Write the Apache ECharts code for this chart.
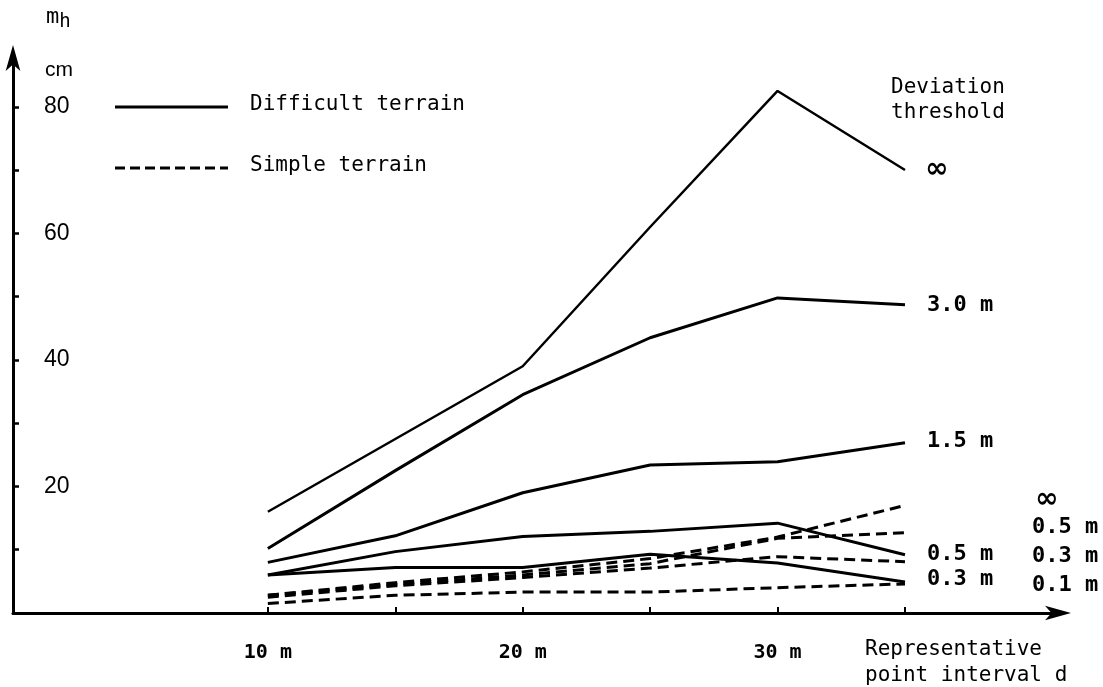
<!DOCTYPE html>
<html>
<head>
<meta charset="utf-8">
<script src="https://cdn.jsdelivr.net/npm/echarts@6/dist/echarts.min.js"></script>
<style>
html,body{margin:0;padding:0;background:#fff;}
#chart{width:1103px;height:687px;}
</style>
</head>
<body>
<div id="chart"></div>
<script>
// Representative point interval d (m)
const intervals = [10, 15, 20, 25, 30, 35];
// Difficult terrain (solid), by deviation threshold
const difficultInf = [16, 27.5, 39, 61, 82.5, 70];
const difficult30 = [10.2, 22.5, 34.5, 43.5, 49.8, 48.7];
const difficult15 = [8, 12.2, 19, 23.4, 23.9, 26.9];
const difficult05 = [6, 9.7, 12.1, 12.9, 14.2, 9.2];
const difficult03 = [6, 7.2, 7.2, 9.3, 7.9, 4.9];
// Simple terrain (dashed)
const simpleInf = [2.8, 4.8, 6.5, 8.6, 12.0, 17.0];
const simple05 = [2.8, 4.5, 6.0, 7.8, 11.8, 12.7];
const simple03 = [2.5, 4.3, 5.6, 7.1, 8.9, 8.1];
const simple01 = [1.5, 2.8, 3.3, 3.3, 4.0, 4.6];
// Tick values
const xTicks = [10, 15, 20, 25, 30, 35];
const xLabels = [10, 20, 30];
const yTicks = [10, 20, 30, 40, 50, 60, 70, 80];
const yLabels = [20, 40, 60, 80];

const mono = '"DejaVu Sans Mono", "Liberation Mono", monospace';
const sans = '"Liberation Sans", Arial, sans-serif';

function pairs(vals) { return intervals.map((x, i) => [x, vals[i]]); }

function mk(name, vals, dashed, labelText, offset, width) {
  const inf = labelText === '∞';
  return {
    type: 'line',
    name: name,
    data: pairs(vals),
    symbol: 'none',
    smooth: false,
    silent: true,
    lineStyle: { color: '#000', width: width || 3, type: dashed ? [11, 6] : 'solid' },
    endLabel: {
      show: true,
      formatter: labelText,
      distance: 0,
      offset: offset,
      color: '#000',
      fontFamily: inf ? '"DejaVu Sans", sans-serif' : mono,
      fontSize: inf ? 28 : 22,
      fontWeight: 'bold'
    }
  };
}

const chart = echarts.init(document.getElementById('chart'), null, { renderer: 'canvas' });
chart.setOption({
  backgroundColor: '#fff',
  animation: false,
  grid: { left: 13, right: 40, top: 53, bottom: 74, containLabel: false },
  xAxis: {
    type: 'value', min: 0, max: 41.2,
    splitLine: { show: false },
    axisLine: { show: true, lineStyle: { color: '#000', width: 3 }, symbol: ['none', 'arrow'], symbolSize: [11, 26], symbolOffset: [0, 8] },
    axisTick: { show: true, inside: true, length: 6, lineStyle: { color: '#000', width: 2 }, customValues: xTicks },
    axisLabel: { show: true, customValues: xLabels, formatter: '{value} m', margin: 30, color: '#000', fontFamily: mono, fontSize: 20, fontWeight: 'bold' }
  },
  yAxis: {
    type: 'value', min: 0, max: 88.5,
    splitLine: { show: false },
    axisLine: { show: true, lineStyle: { color: '#000', width: 3 }, symbol: ['none', 'arrow'], symbolSize: [11, 26], symbolOffset: [0, 8] },
    axisTick: { show: true, inside: true, length: 6, lineStyle: { color: '#000', width: 2.5 }, customValues: yTicks },
    axisLabel: { show: true, inside: true, customValues: yLabels, margin: 31, color: '#000', fontFamily: sans, fontSize: 23 }
  },
  series: [
    mk('∞ difficult', difficultInf, false, '∞', [20, 0], 2.5),
    mk('3.0 m difficult', difficult30, false, '3.0 m', [22, 0]),
    mk('1.5 m difficult', difficult15, false, '1.5 m', [22, -2]),
    mk('0.5 m difficult', difficult05, false, '0.5 m', [22, -1]),
    mk('0.3 m difficult', difficult03, false, '0.3 m', [22, -3]),
    mk('∞ simple', simpleInf, true, '∞', [130, -6]),
    mk('0.5 m simple', simple05, true, '0.5 m', [127, -5]),
    mk('0.3 m simple', simple03, true, '0.3 m', [127, -5]),
    mk('0.1 m simple', simple01, true, '0.1 m', [127, 1])
  ],
  graphic: [
    { type: 'text', left: 46, top: 6, style: { text: '{m|m}{h|h}', rich: { m: { fontFamily: mono, fontSize: 22 }, h: { fontFamily: mono, fontSize: 19, padding: [10, 0, 0, 0] } }, fill: '#000' } },
    { type: 'text', left: 45, top: 60, style: { text: 'cm', fontFamily: sans, fontSize: 21, fill: '#000' } },
    { type: 'line', shape: { x1: 115, y1: 107, x2: 228, y2: 107 }, style: { stroke: '#000', lineWidth: 3 } },
    { type: 'text', left: 250, top: 94, style: { text: 'Difficult terrain', fontFamily: mono, fontSize: 21, fill: '#000' } },
    { type: 'line', shape: { x1: 115, y1: 168, x2: 228, y2: 168 }, style: { stroke: '#000', lineWidth: 3, lineDash: [10, 5] } },
    { type: 'text', left: 250, top: 155, style: { text: 'Simple terrain', fontFamily: mono, fontSize: 21, fill: '#000' } },
    { type: 'text', left: 891, top: 75, style: { text: 'Deviation\nthreshold', fontFamily: mono, fontSize: 21, lineHeight: 25, fill: '#000' } },
    { type: 'text', left: 865, top: 637, style: { text: 'Representative\npoint interval d', fontFamily: mono, fontSize: 21, lineHeight: 26, fill: '#000' } }
  ]
});
</script>
</body>
</html>
